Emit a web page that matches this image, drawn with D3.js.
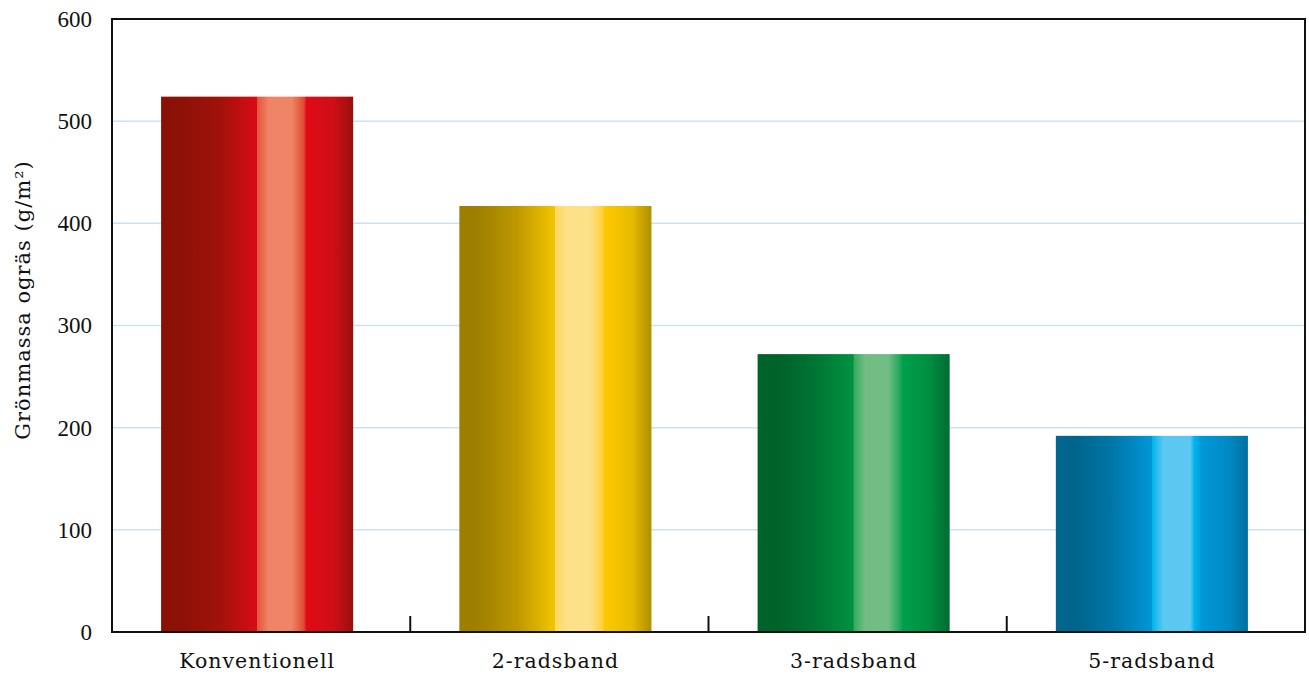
<!DOCTYPE html>
<html><head><meta charset="utf-8">
<script src="https://cdn.jsdelivr.net/npm/d3@7"></script>
<style>body{margin:0;background:#fff}svg{display:block}text{font-family:"DejaVu Serif",serif;fill:#111}</style>
</head><body><svg id="c" width="1309" height="675"></svg>
<script>
const categories = ["Konventionell","2-radsband","3-radsband","5-radsband"];
const values = [524, 417, 272, 192];
const yTicks = [0,100,200,300,400,500,600];
const yLabel = "Grönmassa ogräs (g/m²)";
const palettes = [
  [[0,"#8a1005"],[0.1,"#8d1106"],[0.3,"#a01209"],[0.499,"#d80c16"],[0.5,"#e4543c"],[0.56,"#f08466"],[0.68,"#f08466"],[0.745,"#e0492f"],[0.755,"#e20a17"],[0.9,"#cd0e16"],[1,"#990f0b"]],
  [[0,"#9c7e00"],[0.1,"#9f8000"],[0.3,"#bd9800"],[0.499,"#f4c500"],[0.5,"#ffd960"],[0.56,"#fde08a"],[0.68,"#fde08a"],[0.745,"#ffd040"],[0.755,"#ffc800"],[0.9,"#e6bb00"],[1,"#b08e00"]],
  [[0,"#00652a"],[0.1,"#006128"],[0.3,"#007533"],[0.499,"#009242"],[0.5,"#35aa5c"],[0.56,"#72bd84"],[0.68,"#72bd84"],[0.745,"#1aa65a"],[0.755,"#00a04d"],[0.9,"#008d40"],[1,"#006b32"]],
  [[0,"#00688f"],[0.1,"#00648c"],[0.3,"#0077a8"],[0.499,"#0096d6"],[0.5,"#00b4e8"],[0.56,"#5cc7f1"],[0.7,"#5cc7f1"],[0.72,"#00b6ec"],[0.76,"#0098d8"],[0.9,"#0089c4"],[1,"#0070a0"]]
];
const svg = d3.select("#c");
const L=112,R=1305,T=19,B=632;
const x = d3.scaleBand().domain(categories).range([L,R]).paddingInner(0.356).paddingOuter(0.178);
const y = d3.scaleLinear().domain([0,600]).range([B,T]);
const defs = svg.append("defs");
palettes.forEach((p,i)=>{
  const g = defs.append("linearGradient").attr("id","g"+i).attr("x1","0").attr("x2","1").attr("y1","0").attr("y2","0");
  p.forEach(s=>g.append("stop").attr("offset",s[0]).attr("stop-color",s[1]));
});
// gridlines
svg.append("g").selectAll("line").data(yTicks.filter(d=>d>0&&d<600)).join("line")
  .attr("x1",L).attr("x2",R).attr("y1",d=>y(d)).attr("y2",d=>y(d))
  .attr("stroke","#c9e3f2").attr("stroke-width",1.5);
// bars
svg.append("g").attr("transform","translate(-4,0)").selectAll("rect").data(values).join("rect")
  .attr("x",(d,i)=>x(categories[i])).attr("width",x.bandwidth())
  .attr("y",d=>y(d)).attr("height",d=>B-y(d))
  .attr("fill",(d,i)=>`url(#g${i})`);
// frame
svg.append("rect").attr("x",L).attr("y",T).attr("width",R-L).attr("height",B-T)
  .attr("fill","none").attr("stroke","#111").attr("stroke-width",2);
// y axis labels
const ya = svg.append("g").attr("transform",`translate(${L},0)`)
  .call(d3.axisLeft(y).tickValues(yTicks).tickSize(0).tickPadding(20));
ya.select(".domain").remove();
ya.selectAll("text").style("font-family","'Liberation Serif',serif").style("font-size","23px").attr("fill","#111");
// x axis
const xa = svg.append("g").attr("transform",`translate(0,${B})`)
  .call(d3.axisBottom(x).tickSize(0).tickPadding(21));
xa.select(".domain").remove();
xa.selectAll("text").attr("transform","translate(-4,0)").style("font-family","'DejaVu Serif',serif")
  .style("font-size","20.5px").style("letter-spacing","1px").attr("fill","#111");
// category separator ticks
svg.append("g").selectAll("line").data(categories.slice(1)).join("line")
  .attr("x1",d=>x(d)-x.step()*x.paddingInner()/2).attr("x2",d=>x(d)-x.step()*x.paddingInner()/2)
  .attr("y1",B).attr("y2",B-16).attr("stroke","#111").attr("stroke-width",2);
// y label
svg.append("text").attr("transform",`translate(30,300) rotate(-90)`)
  .attr("text-anchor","middle").style("font-size","21px").style("letter-spacing","1px").text(yLabel);
</script></body></html>
